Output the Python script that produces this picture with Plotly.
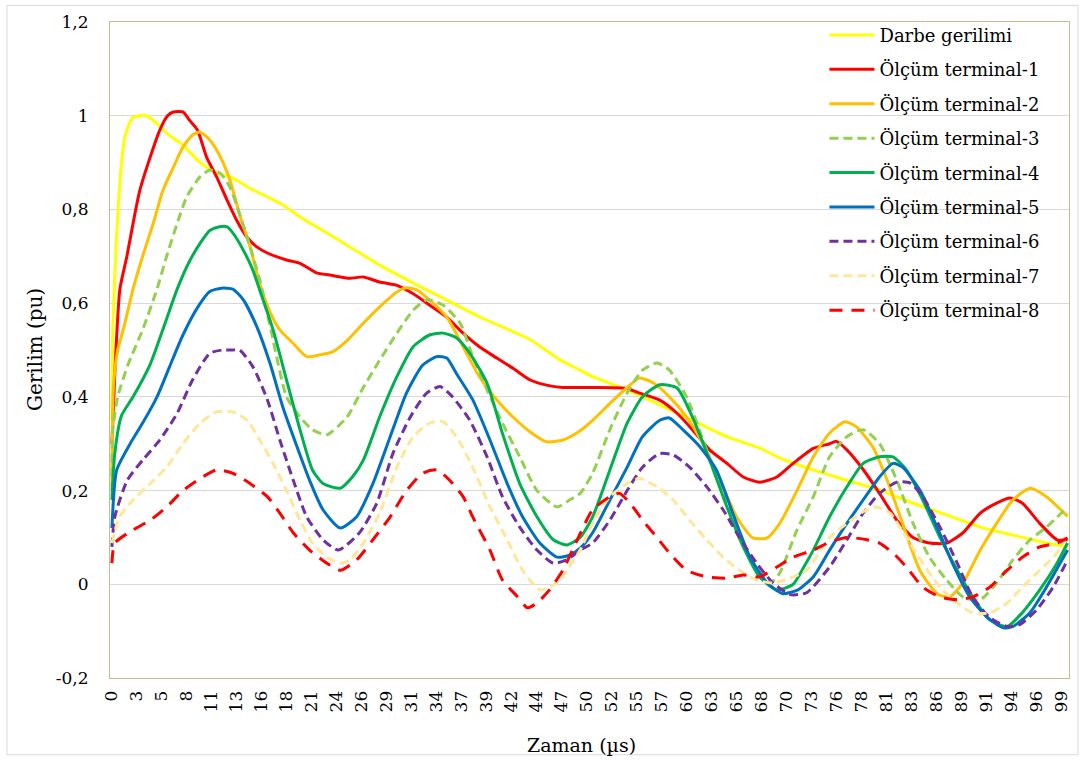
import plotly.graph_objects as go

# Category labels shown on the time axis (µs)
x_labels = ["0", "3", "5", "8", "11", "13", "16", "18", "21", "24", "26", "29", "31",
            "34", "37", "39", "42", "44", "47", "50", "52", "55", "57", "60", "63", "65",
            "68", "70", "73", "76", "78", "81", "83", "86", "89", "91", "94", "96", "99"]
x_max = 99.0

y_ticks = [-0.2, 0, 0.2, 0.4, 0.6, 0.8, 1.0, 1.2]
y_labels = ["-0,2", "0", "0,2", "0,4", "0,6", "0,8", "1", "1,2"]

# Darbe gerilimi
t_darbe = [0, 0.1, 0.5, 1.0, 1.35, 2.1, 2.8, 3.6, 4.5, 5.7, 7.4, 9.2, 10.9, 12.6, 14.4,
           16.2, 17.8, 19.6, 22.0, 24.8, 28.0, 31.4, 34.2, 38.3, 43.6, 46.7, 48.8, 50.1,
           53.7, 57.1, 60.5, 64.1, 67.5, 69.6, 73.1, 76.6, 80.0, 83.5, 87.0, 90.5, 93.9,
           97.4, 99.6]
v_darbe = [0.35, 0.55, 0.75, 0.90, 0.955, 0.995, 1.0, 1.0, 0.987, 0.963, 0.937, 0.90,
           0.878, 0.867, 0.845, 0.827, 0.81, 0.784, 0.755, 0.72, 0.68, 0.643, 0.614, 0.571,
           0.522, 0.479, 0.457, 0.443, 0.415, 0.383, 0.35, 0.315, 0.291, 0.27, 0.244, 0.222,
           0.201, 0.173, 0.148, 0.122, 0.105, 0.088, 0.08]

# Ölçüm terminal-1
t_t1 = [0, 0.3, 0.83, 1.56, 2.2, 2.9, 3.96, 5.0, 5.8, 6.4, 7.4, 8.1, 8.9, 9.9, 10.9, 12.0,
        13.0, 14.1, 15.1, 16.2, 18.2, 19.6, 21.4, 22.7, 24.8, 26.2, 27.9, 29.7, 31.4, 33.1,
        34.9, 36.6, 38.3, 40.1, 41.8, 43.6, 45.3, 47.0, 50.0, 53.7, 54.7, 57.1, 58.9, 60.5,
        62.3, 64.1, 65.8, 67.5, 69.3, 71.0, 73.1, 74.8, 75.5, 76.6, 78.3, 80.0, 81.8, 83.5,
        85.2, 87.0, 88.7, 90.5, 92.2, 93.6, 94.9, 96.7, 98.5, 99.6]
v_t1 = [0.30, 0.45, 0.63, 0.70, 0.77, 0.84, 0.91, 0.97, 1.0, 1.008, 1.008, 0.99, 0.97,
        0.91, 0.87, 0.82, 0.777, 0.74, 0.72, 0.707, 0.692, 0.685, 0.664, 0.66, 0.653, 0.656,
        0.645, 0.638, 0.62, 0.596, 0.57, 0.536, 0.507, 0.483, 0.461, 0.436, 0.425, 0.42,
        0.42, 0.418, 0.41, 0.393, 0.365, 0.33, 0.287, 0.258, 0.229, 0.218, 0.229, 0.258,
        0.29, 0.30, 0.305, 0.287, 0.245, 0.194, 0.137, 0.10, 0.088, 0.088, 0.11, 0.152,
        0.173, 0.184, 0.173, 0.13, 0.095, 0.095]

# Ölçüm terminal-2
t_t2 = [0, 0.15, 0.6, 1.2, 2.2, 3.2, 4.3, 5.3, 6.4, 7.4, 8.4, 9.2, 10.2, 11.3, 12.3, 13.3,
        14.4, 15.4, 16.5, 17.5, 18.9, 20.3, 21.7, 23.0, 24.5, 26.2, 27.9, 29.7, 30.7, 31.8,
        33.1, 34.9, 36.6, 38.3, 40.1, 41.8, 43.6, 45.3, 47.0, 48.6, 50.1, 51.9, 53.7, 55.0,
        56.4, 58.1, 59.9, 61.6, 63.4, 65.1, 66.8, 68.3, 69.6, 71.4, 73.1, 74.8, 76.4, 77.6,
        79.3, 80.8, 82.4, 84.2, 86.0, 87.3, 88.7, 90.5, 92.2, 93.9, 95.7, 97.4, 99.6]
v_t2 = [0.22, 0.42, 0.50, 0.545, 0.63, 0.70, 0.77, 0.84, 0.89, 0.933, 0.959, 0.965, 0.948,
        0.912, 0.863, 0.79, 0.72, 0.642, 0.58, 0.543, 0.514, 0.486, 0.49, 0.496, 0.52,
        0.557, 0.592, 0.624, 0.633, 0.628, 0.607, 0.57, 0.507, 0.443, 0.394, 0.357, 0.325,
        0.304, 0.308, 0.325, 0.35, 0.386, 0.42, 0.44, 0.43, 0.40, 0.357, 0.30, 0.222, 0.144,
        0.099, 0.099, 0.13, 0.20, 0.272, 0.323, 0.347, 0.336, 0.293, 0.222, 0.13, 0.03,
        -0.02, -0.027, 0.003, 0.073, 0.13, 0.18, 0.205, 0.187, 0.145]

# Ölçüm terminal-3
t_t3 = [0, 0.1, 0.6, 1.7, 3.2, 4.7, 5.7, 6.8, 7.8, 9.2, 10.2, 11.3, 12.3, 13.3, 14.4, 15.4,
        16.6, 18.2, 19.6, 20.9, 22.4, 24.5, 26.2, 27.9, 29.7, 31.4, 32.8, 34.5, 36.3, 37.6,
        39.1, 40.7, 42.5, 44.3, 46.4, 47.7, 48.8, 50.1, 51.9, 53.7, 55.3, 56.8, 58.1, 59.9,
        61.6, 63.4, 65.1, 66.8, 68.6, 69.6, 71.4, 73.1, 74.8, 76.6, 78.3, 80.0, 81.8, 83.5,
        85.2, 87.0, 88.7, 90.5, 92.2, 93.9, 95.7, 97.4, 99.6]
v_t3 = [0.20, 0.33, 0.40, 0.47, 0.543, 0.63, 0.70, 0.77, 0.827, 0.87, 0.884, 0.877, 0.848,
        0.79, 0.72, 0.65, 0.54, 0.40, 0.357, 0.33, 0.319, 0.357, 0.42, 0.478, 0.536, 0.585,
        0.607, 0.596, 0.557, 0.486, 0.415, 0.344, 0.272, 0.20, 0.165, 0.18, 0.194, 0.237,
        0.33, 0.408, 0.457, 0.472, 0.457, 0.40, 0.308, 0.208, 0.116, 0.046, 0.003, 0.024,
        0.116, 0.187, 0.272, 0.315, 0.33, 0.30, 0.222, 0.13, 0.058, 0.009, -0.027, -0.033,
        0.003, 0.052, 0.095, 0.122, 0.165]

# Ölçüm terminal-4
t_t4 = [0, 0.3, 1.0, 2.2, 4.0, 5.3, 6.8, 8.1, 9.2, 10.2, 11.2, 12.0, 12.6, 13.7, 14.7, 15.4,
        16.8, 18.2, 19.6, 20.9, 22.0, 23.8, 25.1, 26.2, 27.9, 29.7, 31.4, 33.1, 34.5, 35.9,
        37.3, 39.1, 40.7, 42.5, 44.3, 46.0, 47.4, 48.8, 50.1, 51.9, 53.7, 55.3, 57.1, 58.9,
        60.5, 62.3, 64.1, 65.8, 67.5, 69.3, 71.0, 72.2, 73.1, 74.8, 76.6, 78.3, 80.0, 81.4,
        82.8, 84.5, 86.3, 88.1, 89.7, 91.5, 93.3, 94.9, 96.7, 98.5, 99.6]
v_t4 = [0.18, 0.28, 0.36, 0.40, 0.47, 0.543, 0.63, 0.69, 0.728, 0.755, 0.763, 0.763, 0.75,
        0.713, 0.67, 0.628, 0.543, 0.436, 0.33, 0.244, 0.215, 0.205, 0.23, 0.265, 0.357,
        0.443, 0.507, 0.532, 0.536, 0.526, 0.493, 0.429, 0.322, 0.215, 0.144, 0.095, 0.084,
        0.10, 0.144, 0.244, 0.344, 0.40, 0.426, 0.419, 0.357, 0.265, 0.165, 0.08, 0.016,
        -0.012, 0.0, 0.04, 0.073, 0.144, 0.208, 0.258, 0.272, 0.272, 0.244, 0.18, 0.10,
        0.03, -0.027, -0.076, -0.09, -0.06, -0.012, 0.045, 0.088]

# Ölçüm terminal-5
t_t5 = [0, 0.5, 1.9, 3.2, 4.7, 6.0, 7.4, 8.9, 10.2, 11.4, 12.6, 13.7, 15.1, 16.5, 17.8,
        19.3, 20.6, 22.0, 23.8, 25.5, 27.2, 29.0, 30.7, 32.4, 33.9, 34.9, 35.9, 37.6, 39.4,
        41.2, 42.8, 44.6, 46.4, 47.7, 48.8, 50.1, 51.9, 53.7, 55.3, 57.1, 58.1, 59.5, 61.3,
        63.0, 64.7, 66.5, 68.3, 69.9, 71.5, 73.1, 74.8, 76.6, 78.3, 80.0, 81.4, 82.4, 84.2,
        86.0, 87.6, 89.4, 91.2, 92.9, 93.9, 95.7, 97.4, 99.6]
v_t5 = [0.12, 0.244, 0.30, 0.344, 0.40, 0.464, 0.532, 0.59, 0.625, 0.632, 0.63, 0.607,
        0.55, 0.47, 0.379, 0.293, 0.222, 0.159, 0.12, 0.144, 0.215, 0.315, 0.408, 0.468,
        0.486, 0.483, 0.45, 0.394, 0.308, 0.215, 0.144, 0.088, 0.058, 0.062, 0.077, 0.11,
        0.18, 0.25, 0.315, 0.35, 0.355, 0.33, 0.293, 0.244, 0.152, 0.058, 0.003, -0.02,
        -0.012, 0.016, 0.073, 0.13, 0.18, 0.229, 0.258, 0.25, 0.201, 0.122, 0.045, -0.027,
        -0.07, -0.093, -0.09, -0.06, -0.006, 0.073]

# Ölçüm terminal-6
t_t6 = [0, 0.3, 1.6, 3.2, 5.0, 6.8, 8.4, 10.2, 11.5, 12.6, 13.3, 14.7, 16.2, 17.5, 18.9,
        20.3, 22.0, 23.6, 25.8, 27.6, 29.3, 31.1, 32.8, 34.2, 35.5, 37.3, 39.1, 40.7, 42.5,
        44.3, 46.0, 47.4, 48.8, 50.1, 51.9, 53.7, 55.3, 57.1, 58.5, 60.2, 62.0, 63.7, 65.4,
        67.2, 68.9, 70.7, 72.4, 74.8, 76.6, 78.3, 80.0, 81.8, 83.2, 84.5, 86.3, 88.1, 89.7,
        91.5, 93.3, 94.6, 96.4, 98.1, 99.6]
v_t6 = [0.08, 0.144, 0.222, 0.265, 0.308, 0.365, 0.436, 0.493, 0.50, 0.50, 0.50, 0.464,
        0.394, 0.308, 0.222, 0.144, 0.095, 0.073, 0.11, 0.173, 0.28, 0.357, 0.408, 0.422,
        0.40, 0.35, 0.272, 0.187, 0.122, 0.073, 0.045, 0.052, 0.073, 0.088, 0.137, 0.20,
        0.25, 0.279, 0.276, 0.25, 0.208, 0.159, 0.10, 0.045, 0.003, -0.022, -0.018, 0.037,
        0.095, 0.152, 0.194, 0.218, 0.216, 0.187, 0.122, 0.045, -0.027, -0.071, -0.09,
        -0.086, -0.054, -0.006, 0.052]

# Ölçüm terminal-7
t_t7 = [0, 0.8, 2.2, 4.0, 5.7, 7.4, 9.2, 10.9, 12.6, 14.1, 15.4, 16.8, 18.2, 19.6, 20.9,
        22.4, 23.8, 24.8, 26.2, 27.9, 29.7, 31.4, 33.1, 34.5, 35.9, 37.6, 39.4, 41.2, 42.8,
        44.6, 46.4, 47.4, 48.8, 50.1, 51.9, 53.7, 55.0, 56.8, 58.5, 60.2, 62.0, 63.7, 65.4,
        67.2, 68.9, 70.7, 72.4, 74.8, 76.6, 78.3, 79.7, 81.1, 82.8, 84.5, 86.3, 88.1, 89.7,
        91.5, 93.3, 94.9, 96.7, 98.5, 99.6]
v_t7 = [0.088, 0.144, 0.18, 0.215, 0.25, 0.30, 0.344, 0.368, 0.368, 0.35, 0.308, 0.258,
        0.20, 0.137, 0.088, 0.058, 0.045, 0.052, 0.088, 0.152, 0.25, 0.315, 0.344, 0.347,
        0.315, 0.25, 0.165, 0.095, 0.03, -0.012, 0.003, 0.03, 0.073, 0.13, 0.187, 0.215,
        0.226, 0.208, 0.18, 0.137, 0.095, 0.058, 0.03, 0.009, 0.003, 0.013, 0.03, 0.10,
        0.13, 0.155, 0.165, 0.152, 0.10, 0.045, -0.006, -0.04, -0.061, -0.061, -0.04,
        -0.006, 0.03, 0.067, 0.11]

# Ölçüm terminal-8
t_t8 = [0, 0.3, 2.2, 4.0, 5.7, 7.4, 9.2, 10.9, 12.6, 14.4, 16.2, 17.5, 18.9, 20.6, 22.4,
        23.8, 25.5, 27.2, 29.0, 30.7, 32.4, 33.9, 35.2, 36.6, 37.6, 39.4, 40.7, 42.2, 43.3,
        44.3, 45.6, 47.0, 48.5, 50.1, 51.9, 52.9, 54.0, 55.3, 56.8, 58.1, 59.9, 62.0, 64.1,
        65.8, 67.5, 69.3, 71.0, 73.1, 74.8, 76.6, 78.7, 80.0, 81.4, 82.8, 84.5, 86.3, 88.1,
        89.7, 91.5, 93.3, 94.9, 96.7, 98.5, 99.6]
v_t8 = [0.045, 0.088, 0.116, 0.137, 0.165, 0.20, 0.226, 0.244, 0.237, 0.215, 0.187, 0.152,
        0.11, 0.073, 0.045, 0.03, 0.052, 0.095, 0.144, 0.20, 0.237, 0.244, 0.222, 0.187,
        0.144, 0.073, 0.009, -0.025, -0.05, -0.04, -0.012, 0.03, 0.095, 0.159, 0.187, 0.194,
        0.173, 0.137, 0.10, 0.067, 0.03, 0.016, 0.013, 0.02, 0.016, 0.037, 0.058, 0.073,
        0.09, 0.10, 0.095, 0.088, 0.067, 0.037, -0.006, -0.027, -0.033, -0.027, -0.006,
        0.03, 0.058, 0.08, 0.088, 0.099]

series = [
    ("Darbe gerilimi", t_darbe, v_darbe, "#FFFF00", "solid"),
    ("Ölçüm terminal-1", t_t1, v_t1, "#FF0000", "solid"),
    ("Ölçüm terminal-2", t_t2, v_t2, "#FFC000", "solid"),
    ("Ölçüm terminal-3", t_t3, v_t3, "#92D050", "9px,5px"),
    ("Ölçüm terminal-4", t_t4, v_t4, "#00B050", "solid"),
    ("Ölçüm terminal-5", t_t5, v_t5, "#0070C0", "solid"),
    ("Ölçüm terminal-6", t_t6, v_t6, "#7030A0", "9px,5px"),
    ("Ölçüm terminal-7", t_t7, v_t7, "#FFE699", "9px,5px"),
    ("Ölçüm terminal-8", t_t8, v_t8, "#FF0000", "13px,9px"),
]

FONT = "DejaVu Serif"

fig = go.Figure()
for name, t, v, color, dash in series:
    fig.add_trace(go.Scatter(
        x=t, y=v, name=name, mode="lines",
        line=dict(color=color, width=3, dash=dash, shape="spline", smoothing=0.6),
        legendgroup=name,
    ))

step = x_max / (len(x_labels) - 1)
tick_pos = [i * step for i in range(len(x_labels))]

fig.update_layout(
    width=1084, height=760,
    margin=dict(l=110, r=15, t=22, b=82),
    paper_bgcolor="white", plot_bgcolor="white",
    font=dict(family=FONT, size=17, color="#000000"),
    showlegend=True,
    legend=dict(
        x=0.745, y=1.008, xanchor="left", yanchor="top",
        bgcolor="rgba(0,0,0,0)", borderwidth=0,
        font=dict(family=FONT, size=18, color="#000000"),
        itemwidth=45, tracegroupgap=8,
    ),
    xaxis=dict(
        range=[-0.2, 99.75],
        tickmode="array", tickvals=tick_pos, ticktext=x_labels,
        tickangle=-90, tickfont=dict(family=FONT, size=17),
        showgrid=False, zeroline=False,
        showline=True, linecolor="#C9BA8E", linewidth=1, mirror=True,
        ticks="", ticklabelstandoff=5,
    ),
    yaxis=dict(
        range=[-0.2, 1.2],
        tickmode="array", tickvals=y_ticks, ticktext=y_labels,
        tickfont=dict(family=FONT, size=17),
        showgrid=True, gridcolor="#D9D9D9", gridwidth=1,
        zeroline=False,
        showline=True, linecolor="#C9BA8E", linewidth=1, mirror=True,
        ticks="", ticklabelstandoff=17,
    ),
    annotations=[
        dict(text="Zaman (µs)", xref="paper", yref="paper", x=0.492, y=-0.1021,
             xanchor="center", yanchor="middle", showarrow=False,
             font=dict(family=FONT, size=19)),
        dict(text="Gerilim (pu)", xref="paper", yref="paper", x=-0.0782, y=0.5,
             xanchor="center", yanchor="middle", textangle=-90, showarrow=False,
             font=dict(family=FONT, size=20)),
    ],
    shapes=[dict(
        type="rect", xref="paper", yref="paper",
        x0=-0.1074, x1=1.0094, y0=-0.117, y1=1.0254,
        line=dict(color="#D9D9D9", width=1), fillcolor="rgba(0,0,0,0)", layer="below",
    )],
)

fig.write_html("out.html")
